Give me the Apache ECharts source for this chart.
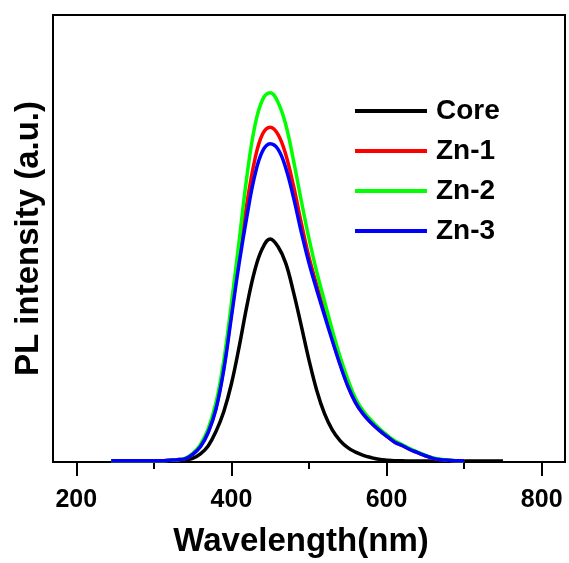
<!DOCTYPE html>
<html>
<head>
<meta charset="utf-8">
<script src="https://cdn.jsdelivr.net/npm/echarts@6/dist/echarts.min.js"></script>
<style>
  html, body { margin: 0; padding: 0; background: #fff; }
  #main { width: 569px; height: 563px; }
</style>
</head>
<body>
<div id="main"></div>
<script>
// wavelength (nm)
const wavelengths = [245, 250, 260, 270, 280, 290, 300, 310, 320, 330, 340, 350, 360, 370, 380, 390,
  400, 410, 420, 430, 440, 450, 460, 470, 480, 490, 500, 510, 520, 530, 540, 550, 560, 570, 580, 590,
  600, 610, 620, 630, 640, 650, 660, 670, 680, 690, 700, 710, 720, 730, 740, 750]

// PL intensity (a.u.)
const core = [2, 2, 2, 2, 2, 2, 2, 2, 3, 3, 5, 8, 18, 36, 68, 112,
  175, 258, 350, 428, 478, 499, 482, 445, 380, 305, 228, 160, 108, 72, 48, 32, 22, 15, 10, 6,
  4, 3, 3, 2, 2, 2, 2, 2, 2, 2, 2, 2, 2, 2, 2, 2]
const zn1 = [3, 3, 3, 3, 3, 3, 3, 3, 4, 5, 7, 17, 35, 67, 120, 210,
  333, 458, 578, 675, 733, 749, 733, 688, 618, 535, 458, 395, 335, 276, 220, 171, 133, 107, 88, 72,
  58, 45, 37, 28, 21, 14, 8, 5, 4, 3, 3]
const zn2 = [3, 3, 3, 3, 3, 3, 3, 3, 4, 5, 8, 19, 39, 74, 132, 225,
  355, 495, 640, 750, 810, 826, 805, 755, 675, 585, 500, 425, 360, 295, 236, 185, 142, 114, 94, 76,
  61, 48, 39, 30, 22, 15, 9, 6, 4, 3, 3]
const zn3 = [3, 3, 3, 3, 3, 3, 3, 3, 4, 5, 7, 17, 34, 66, 118, 205,
  325, 445, 550, 640, 695, 712, 700, 658, 592, 515, 445, 385, 328, 272, 218, 170, 133, 107, 88, 72,
  58, 45, 37, 28, 21, 14, 8, 5, 4, 3, 3]

const seriesNames = ['Core', 'Zn-1', 'Zn-2', 'Zn-3']
const seriesColors = ['#000000', '#ff0000', '#00ff00', '#0000ff']
const majorTicks = [200, 400, 600, 800]
const minorTicks = [300, 500, 700]

const font = "'Liberation Sans', Arial, sans-serif"

function pairs (values) {
  return values.map((v, i) => [wavelengths[i], v])
}

const chart = echarts.init(document.getElementById('main'))
const option = {
  animation: false,
  grid: {
    left: 53,
    right: 4,
    top: 15,
    bottom: 99,
    show: true,
    borderColor: '#000',
    borderWidth: 2
  },
  legend: {
    orient: 'vertical',
    left: 355,
    top: 97,
    padding: 0,
    itemWidth: 72,
    itemHeight: 4,
    itemGap: 12,
    icon: 'rect',
    data: seriesNames,
    textStyle: {
      fontFamily: font,
      fontSize: 28,
      fontWeight: 'bold',
      color: '#000',
      lineHeight: 28,
      padding: [0, 0, 0, 4]
    }
  },
  xAxis: [
    {
      type: 'value',
      min: 170,
      max: 830,
      name: 'Wavelength(nm)',
      nameLocation: 'middle',
      nameGap: 63,
      nameTextStyle: { fontFamily: font, fontSize: 33, fontWeight: 'bold', color: '#000', padding: [0, 16, 0, 0] },
      axisLine: { show: true, lineStyle: { color: '#000', width: 2 } },
      axisTick: { show: true, inside: false, length: 14, customValues: majorTicks, lineStyle: { color: '#000', width: 2 } },
      axisLabel: { customValues: majorTicks, margin: 26, fontFamily: font, fontSize: 25, fontWeight: 'bold', color: '#000' },
      splitLine: { show: false }
    },
    {
      // minor ticks only
      type: 'value',
      position: 'bottom',
      min: 170,
      max: 830,
      axisLine: { show: false },
      axisTick: { show: true, inside: false, length: 7, customValues: minorTicks, lineStyle: { color: '#000', width: 2 } },
      axisLabel: { show: false },
      splitLine: { show: false }
    }
  ],
  yAxis: {
    type: 'value',
    min: 0,
    max: 1000,
    name: 'PL intensity (a.u.)',
    nameLocation: 'middle',
    nameGap: 8,
    nameTextStyle: { fontFamily: font, fontSize: 33, fontWeight: 'bold', color: '#000' },
    axisLine: { show: true, lineStyle: { color: '#000', width: 2 } },
    axisTick: { show: false },
    axisLabel: { show: false },
    splitLine: { show: false }
  },
  series: [core, zn1, zn2, zn3].map((vals, i) => ({
    name: seriesNames[i],
    type: 'line',
    data: pairs(vals),
    showSymbol: false,
    smooth: 0.4,
    color: seriesColors[i],
    lineStyle: { color: seriesColors[i], width: 3.5 }
  }))
}
chart.setOption(option)
</script>
</body>
</html>
